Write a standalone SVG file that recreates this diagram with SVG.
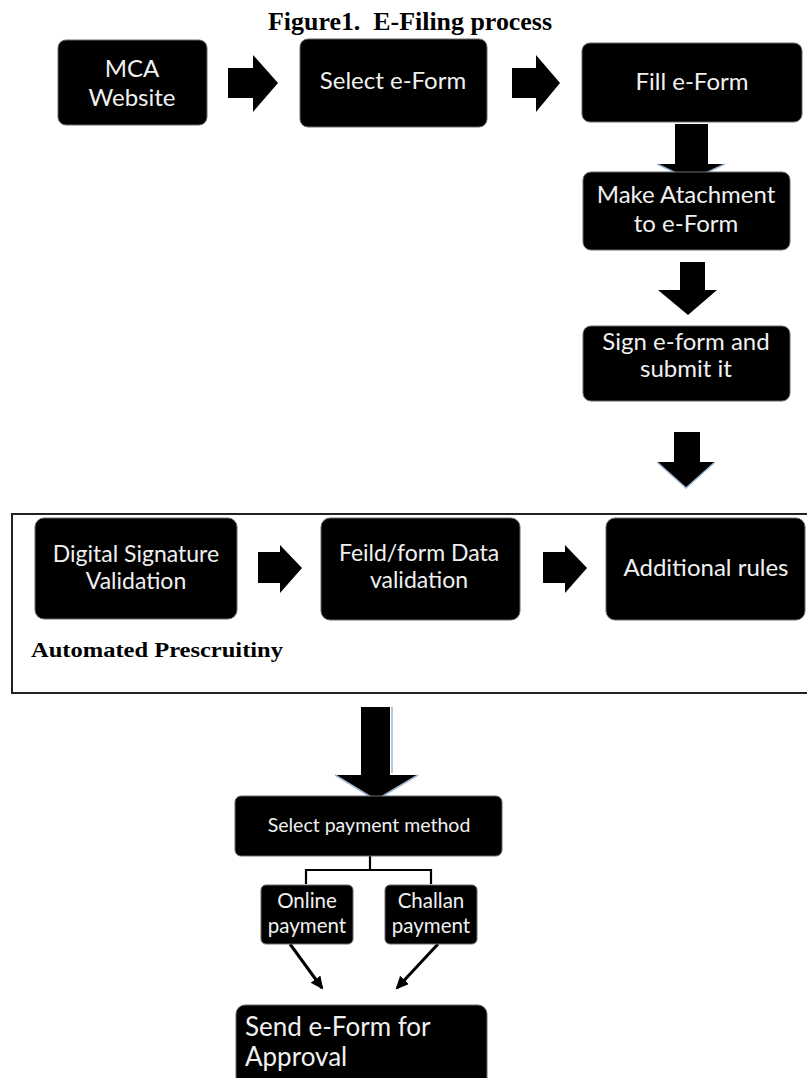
<svg xmlns="http://www.w3.org/2000/svg" width="807" height="1078" viewBox="0 0 807 1078">
<style>
.box{fill:#000;stroke:#6a6a6a;stroke-width:1}
.t{font-family:Lato,"Open Sans","Liberation Sans",sans-serif;fill:#f0f0f0;text-anchor:middle;font-size:24px}
.m{font-size:23px}
.s{font-size:19.5px}
.p{font-size:20.5px}
.blk{fill:#000}
.glow{fill:none;stroke:#9fb6cf;stroke-width:1.5}
.ln{fill:none;stroke:#000;stroke-width:2.2}
.dg{fill:none;stroke:#000;stroke-width:3}
.serif{font-family:"Liberation Serif","Times New Roman",serif;font-weight:bold;fill:#000}
</style>
<defs>
<marker id="ah" markerWidth="14" markerHeight="14" refX="11" refY="6" orient="auto" markerUnits="userSpaceOnUse">
<path d="M0,0 L13,6 L0,12 z" fill="#000"/>
</marker>
</defs>
<rect width="807" height="1078" fill="#fff"/>
<text class="serif" x="410" y="30" font-size="25" text-anchor="middle" textLength="284" lengthAdjust="spacingAndGlyphs">Figure1.&#160; E-Filing process</text>

<g id="container">
<rect x="12" y="514" width="800" height="179" fill="none" stroke="#222" stroke-width="2"/>
<text class="serif" x="31" y="657" font-size="21" textLength="252" lengthAdjust="spacingAndGlyphs">Automated Prescruitiny</text>
</g>

<g id="connectors">
<path class="blk" d="M228,68 H253 V55 L278,83 L253,112 V98 H228 z"/>
<path class="blk" d="M512,68 H536 V55 L560,83 L536,112 V98 H512 z"/>
<path class="blk" d="M675,124 H708 V164 H725 L691,180 L657,164 H675 z"/>
<path class="glow" d="M657,164 L691,180 L725,164"/>
<path class="blk" d="M680,262 H705 V290 H717 L688,315 L658,290 H680 z"/>
<path class="blk" d="M674,432 H700 V462 H715 L686,488 L657,462 H674 z"/>
<path class="glow" d="M657,462 L686,488 L715,462"/>
<path class="blk" d="M258,552 H280 V545 L302,568 L280,593 V583 H258 z"/>
<path class="blk" d="M543,552 H565 V545 L587,568 L565,593 V583 H543 z"/>
<path class="blk" d="M361,707 H390 V775 H418 L376,800 L335,775 H361 z"/>
<path class="glow" d="M335,775 L376,800 L418,775 M392,707 V773"/>
<path class="ln" d="M370,856 V870 M306,884 V870 H431 V884"/>
<path class="dg" marker-end="url(#ah)" d="M290,944 L322,988"/>
<path class="dg" marker-end="url(#ah)" d="M438,944 L397,988"/>
</g>

<g id="mca"><rect class="box" x="58" y="40" width="149" height="85" rx="8"/>
<text class="t" x="132" y="77">MCA</text><text class="t" x="132" y="106">Website</text></g>
<g id="select"><rect class="box" x="300" y="39" width="187" height="88" rx="8"/>
<text class="t" x="393" y="89">Select e-Form</text></g>
<g id="fill"><rect class="box" x="582" y="43" width="220" height="79" rx="8"/>
<text class="t" x="692" y="90">Fill e-Form</text></g>
<g id="attach"><rect class="box" x="583" y="172" width="207" height="78" rx="8"/>
<text class="t" x="686" y="203">Make Atachment</text><text class="t" x="686" y="232">to e-Form</text></g>
<g id="sign"><rect class="box" x="583" y="326" width="207" height="75" rx="8"/>
<text class="t" x="686" y="350">Sign e-form and</text><text class="t" x="686" y="377">submit it</text></g>
<g id="digital"><rect class="box" x="35" y="518" width="202" height="101" rx="9"/>
<text class="t m" x="136" y="562">Digital Signature</text><text class="t m" x="136" y="589">Validation</text></g>
<g id="feild"><rect class="box" x="321" y="518" width="199" height="102" rx="9"/>
<text class="t m" x="419" y="561">Feild/form Data</text><text class="t m" x="419" y="588">validation</text></g>
<g id="additional"><rect class="box" x="606" y="518" width="199" height="102" rx="9"/>
<text class="t" x="706" y="576">Additional rules</text></g>
<g id="payment"><rect class="box" x="235" y="796" width="267" height="60" rx="6"/>
<text class="t s" x="369" y="832">Select payment method</text></g>
<g id="online"><rect class="box" x="261" y="885" width="92" height="59" rx="5"/>
<text class="t p" x="307" y="908">Online</text><text class="t p" x="307" y="933">payment</text></g>
<g id="challan"><rect class="box" x="385" y="885" width="92" height="59" rx="5"/>
<text class="t p" x="431" y="908">Challan</text><text class="t p" x="431" y="933">payment</text></g>
<g id="send"><rect class="box" x="236" y="1005" width="251" height="90" rx="9"/>
<text class="t" x="245" y="1036" style="text-anchor:start;font-size:26px">Send e-Form for</text><text class="t" x="245" y="1066" style="text-anchor:start;font-size:26px">Approval</text></g>
</svg>
